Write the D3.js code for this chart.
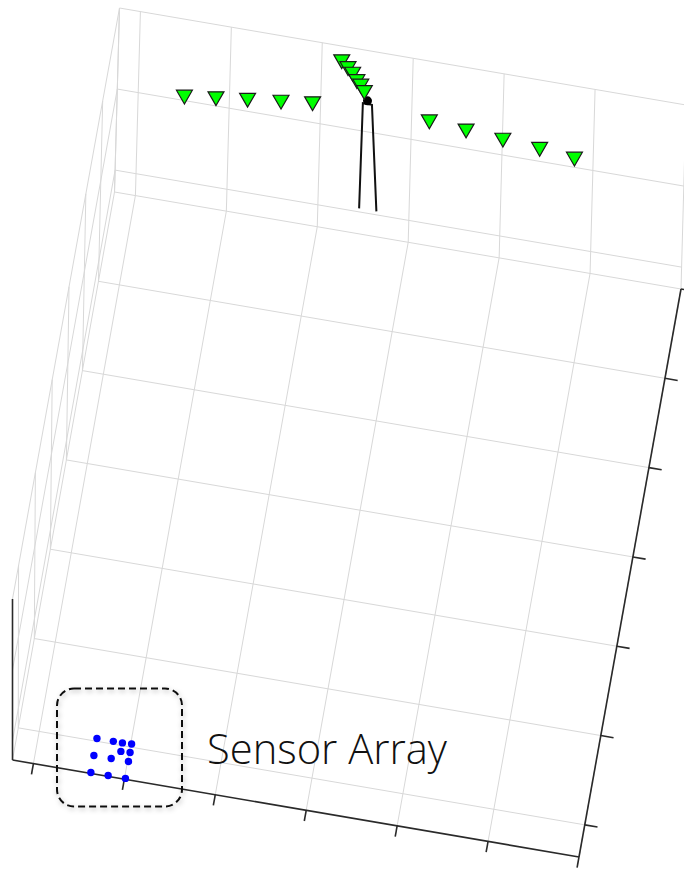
<!DOCTYPE html>
<html>
<head>
<meta charset="utf-8">
<script src="https://cdn.jsdelivr.net/npm/d3@7"></script>
<style>
  html, body { margin: 0; padding: 0; background: #fff; }
  svg { display: block; }
</style>
</head>
<body>
<svg id="chart" width="684" height="870"></svg>
<script>
// axis limits and grid ticks (world units)
const xLimits = [-2.3, 60];
const yLimits = [-3.6, 60];
const zLimits = [-2.7, 20];
const xTicks = [0, 10, 20, 30, 40, 50, 60];
const yTicks = [0, 10, 20, 30, 40, 50, 60];
const zTicks = [0, 10, 20];

// sensor array (blue dots) on the floor
const sensorX = [6.3, 8.1, 9.1, 10.1, 6.3, 8.2, 9.1, 10.1, 10.1, 6.3, 8.2, 10.1];
const sensorY = [0.3, 0.3, 0.3, 0.35, -1.6, -1.6, -0.65, -0.6, -1.6, -3.5, -3.5, -3.5];
const sensorZ = [-2.7, -2.7, -2.7, -2.7, -2.7, -2.7, -2.7, -2.7, -2.7, -2.7, -2.7, -2.7];

// receivers (green triangles)
const receiverX = [6.3, 9.7, 13.1, 16.7, 20.1, 22.4, 23.2, 23.8, 24.4, 24.9, 25.4, 32.9, 37.0, 41.1, 45.2, 49.1];
const receiverY = [52.1, 52.5, 52.9, 53.3, 53.7, 58.6, 58.0, 57.5, 56.8, 56.4, 55.8, 53.9, 53.6, 53.3, 53.0, 52.6];
const receiverZ = [20, 20, 20, 20, 20, 20, 20, 20, 20, 20, 20, 20, 20, 20, 20, 20];

// source mast (black line) and its top marker
const mastX = [24.6, 24.7, 25.7, 26.5];
const mastY = [59.5, 59.5, 59.5, 59.5];
const mastZ = [1, 14, 14, 1];
const sourceTop = [25.2, 59.5, 14.4];

const svg = d3.select('#chart');
const defs = svg.append('defs');

// view: floor frame in pixels, vertical (z) vector changes from front to back
const origin = [12.5, 760];
const edgeX = [566.5, 97];
const edgeY = [102, -568];
const zFront = [0, -161];
const zBack = [5, -184];

const sx = d3.scaleLinear().domain(xLimits).range([0, 1]);
const sy = d3.scaleLinear().domain(yLimits).range([0, 1]);
const sz = d3.scaleLinear().domain(zLimits).range([0, 1]);
const zVec = d3.interpolate(zFront, zBack);

function project(x, y, z) {
  const u = sx(x), v = sy(y), w = sz(z);
  const h = zVec(v);
  return [origin[0] + u * edgeX[0] + v * edgeY[0] + w * h[0],
          origin[1] + u * edgeX[1] + v * edgeY[1] + w * h[1]];
}
const line = d3.line();
const seg = (a, b) => line([project(...a), project(...b)]);

const [x0, x1] = xLimits, [y0, y1] = yLimits, [z0, z1] = zLimits;

// grid segments
const grid = [];
// floor
xTicks.forEach(t => grid.push([[t, y0, z0], [t, y1, z0]]));
yTicks.forEach(t => grid.push([[x0, t, z0], [x1, t, z0]]));
grid.push([[x0, y0, z0], [x0, y1, z0]]);
// back wall
xTicks.forEach(t => grid.push([[t, y1, z0], [t, y1, z1]]));
zTicks.forEach(t => grid.push([[x0, y1, t], [x1, y1, t]]));
grid.push([[x0, y1, z0], [x0, y1, z1]]);
// left wall
yTicks.forEach(t => grid.push([[x0, t, z0], [x0, t, z1]]));
zTicks.forEach(t => grid.push([[x0, y0, t], [x0, y1, t]]));

svg.append('g')
  .selectAll('path')
  .data(grid)
  .join('path')
  .attr('d', d => seg(d[0], d[1]))
  .attr('fill', 'none')
  .attr('stroke', '#d8d8d8')
  .attr('stroke-width', 1);

// axes
const axisG = svg.append('g')
  .attr('fill', 'none')
  .attr('stroke', '#2a2a2a')
  .attr('stroke-width', 1.6);
axisG.append('path').attr('d', seg([x0, y0, z0], [x1, y0, z0]));
axisG.append('path').attr('d', seg([x1, y0, z0], [x1, y1, z0]));
axisG.append('path').attr('d', seg([x0, y0, z0], [x0, y0, z1]));
axisG.selectAll('.xt')
  .data(xTicks)
  .join('path')
  .attr('class', 'xt')
  .attr('d', t => seg([t, y0, z0], [t, y0 - 1.2, z0]));
axisG.selectAll('.yt')
  .data(yTicks)
  .join('path')
  .attr('class', 'yt')
  .attr('d', t => seg([x1, t, z0], [x1 + 1.4, t, z0]));

// source mast
const mastPts = mastX.map((x, i) => project(x, mastY[i], mastZ[i]));
svg.append('path')
  .attr('d', line(mastPts))
  .attr('fill', 'none')
  .attr('stroke', '#111')
  .attr('stroke-width', 2);
const topPt = project(...sourceTop);
svg.append('circle')
  .attr('cx', topPt[0]).attr('cy', topPt[1])
  .attr('r', 4.5)
  .attr('fill', '#000');

// receivers
const tri = d3.symbol(d3.symbolTriangle, 110);
svg.append('g')
  .selectAll('path')
  .data(receiverX.map((x, i) => project(x, receiverY[i], receiverZ[i])))
  .join('path')
  .attr('d', tri)
  .attr('transform', d => `translate(${d[0]},${d[1]}) rotate(180)`)
  .attr('fill', '#00ff00')
  .attr('stroke', '#1a1a1a')
  .attr('stroke-width', 1.2);

// sensors
svg.append('g')
  .selectAll('circle')
  .data(sensorX.map((x, i) => project(x, sensorY[i], sensorZ[i])))
  .join('circle')
  .attr('cx', d => d[0])
  .attr('cy', d => d[1])
  .attr('r', 3.7)
  .attr('fill', '#0000ff');

// annotation
defs.append('filter').attr('id', 'soft')
  .attr('x', '-20%').attr('y', '-20%').attr('width', '140%').attr('height', '140%')
  .append('feDropShadow')
  .attr('dx', 1).attr('dy', 2).attr('stdDeviation', 2.5)
  .attr('flood-color', '#000').attr('flood-opacity', 0.3);

svg.append('rect')
  .attr('x', 57).attr('y', 688.5)
  .attr('width', 125).attr('height', 118)
  .attr('rx', 17)
  .attr('fill', 'none')
  .attr('stroke', '#111')
  .attr('stroke-width', 2)
  .attr('stroke-dasharray', '7,4')
  .attr('filter', 'url(#soft)');

const label = svg.append('text')
  .attr('x', 207).attr('y', 764)
  .attr('font-family', '"Open Sans", "Noto Sans", sans-serif')
  .attr('font-weight', 300)
  .attr('font-size', 42)
  .attr('fill', '#111')
  .text('Sensor Array');
const w = label.node().getComputedTextLength();
label.attr('font-size', 42 * 240 / w);
</script>
</body>
</html>
